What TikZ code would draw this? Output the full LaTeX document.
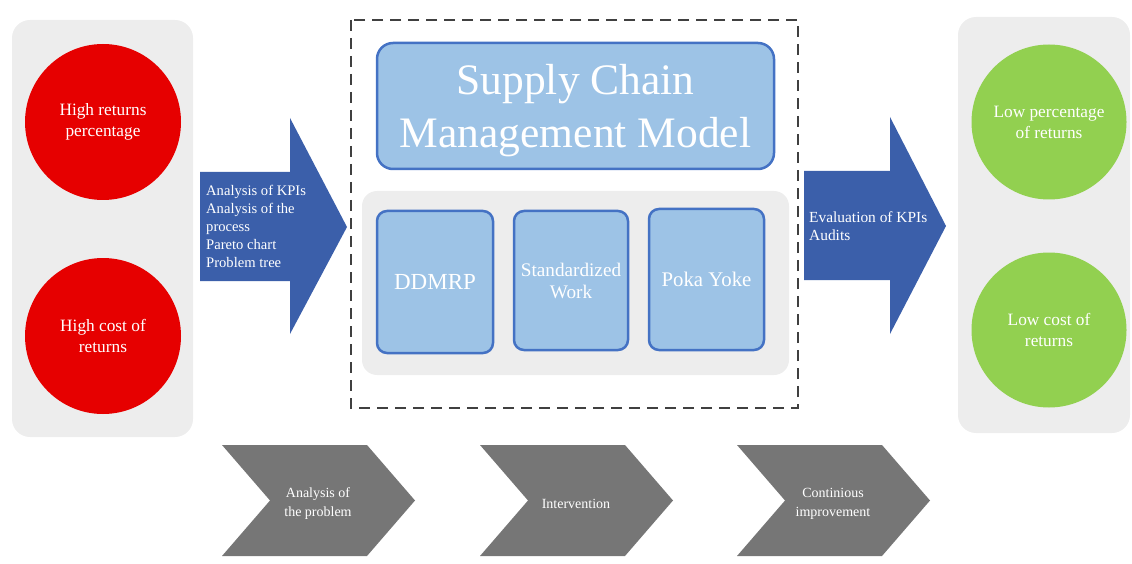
\documentclass[tikz,border=0pt]{standalone}
\usepackage{fontspec}
\setmainfont{Liberation Serif}
\definecolor{panelgray}{HTML}{EDEDED}
\definecolor{redc}{RGB}{230,0,0}
\definecolor{greenc}{HTML}{92D050}
\definecolor{arrowblue}{RGB}{59,95,170}
\definecolor{lightblue}{HTML}{9DC3E6}
\definecolor{borderblue}{HTML}{4472C4}
\definecolor{chevgray}{HTML}{767676}
\definecolor{dashgray}{HTML}{404040}
\begin{document}
\begin{tikzpicture}[x=1pt,y=-1pt,
  panel/.style={fill=panelgray, rounded corners=18pt},
  ballred/.style={circle, fill=redc, minimum size=156pt, inner sep=0pt, text=white, align=center, font=\fontsize{17.3}{21}\selectfont},
  ballgreen/.style={circle, fill=greenc, minimum size=155pt, inner sep=0pt, text=white, align=center, font=\fontsize{17.3}{21}\selectfont},
  bigarrow/.style={fill=arrowblue},
  arrowtext/.style={text=white, align=left, inner sep=0pt, anchor=west, font=\fontsize{14.6}{18}\selectfont},
  bluebox/.style={draw=borderblue, fill=lightblue, line width=2.5pt, rounded corners=10pt, text=white, align=center},
  plaintext/.style={text=white, align=center, inner sep=0pt},
  chevron/.style={fill=chevgray},
  chevtext/.style={text=white, align=center, inner sep=0pt, font=\fontsize{14}{19}\selectfont}
]
\useasboundingbox (0,0) rectangle (1132,564);

% left panel
\path[panel] (12,20) rectangle (193,437);
\node[ballred] (r1) at (103,122) {High returns\\percentage};
\node[ballred] (r2) at (103,336) {High cost of\\returns};

% left arrow
\fill[bigarrow] (200,172) -- (290,172) -- (290,118) -- (347,227) -- (290,334) -- (290,281) -- (200,281) -- cycle;
\node[arrowtext] (lt) at (206,226) {Analysis of KPIs\\Analysis of the\\process\\Pareto chart\\Problem tree};

% dashed frame
\draw[dashgray, line width=1.4pt, dash pattern=on 11pt off 7pt] (351,20) rectangle (798,408);

% SCM box
\node[bluebox, minimum width=397pt, minimum height=126pt, rounded corners=16pt] (scm) at (575.5,106) {};
\node[plaintext, font=\fontsize{43.5}{53}\selectfont] (scmtext) at (575.5,111) {Supply Chain\\Management Model};

% inner gray panel
\path[panel, rounded corners=15pt] (362,191) rectangle (789,375);
\node[bluebox, minimum width=116pt, minimum height=142pt, font=\fontsize{23}{26}\selectfont] (dd) at (435,282) {DDMRP};
\node[bluebox, minimum width=114pt, minimum height=139pt, font=\fontsize{19.2}{22}\selectfont] (sw) at (571,280.5) {Standardized\\Work};
\node[bluebox, minimum width=115pt, minimum height=141pt, font=\fontsize{20.8}{23}\selectfont] (py) at (706.5,279.5) {Poka Yoke};

% right arrow
\fill[bigarrow] (804,171) -- (890,171) -- (890,117) -- (946,226) -- (890,334) -- (890,280) -- (804,280) -- cycle;
\node[arrowtext, font=\fontsize{15.4}{18}\selectfont] (rt) at (809,226) {Evaluation of KPIs\\Audits};

% right panel
\path[panel] (958,17) rectangle (1130,433);
\node[ballgreen] (g1) at (1049,122) {Low percentage\\of returns};
\node[ballgreen] (g2) at (1049,330) {Low cost of\\returns};

% chevrons
\foreach \x/\nm/\txt in {222/c1/{Analysis of\\the problem}, 480/c2/{Intervention}, 737/c3/{Continious\\improvement}} {
  \fill[chevron] (\x,445) -- (\x+145,445) -- (\x+193,500.5) -- (\x+145,556) -- (\x,556) -- (\x+48,500.5) -- cycle;
  \node[chevtext] (\nm) at (\x+96,504) {\txt};
}
\end{tikzpicture}
\end{document}
